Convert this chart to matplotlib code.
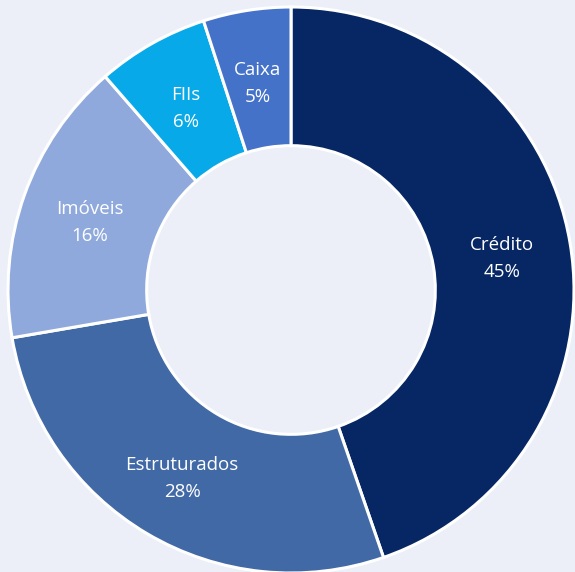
import matplotlib.pyplot as plt
import numpy as np

labels = ['Crédito', 'Estruturados', 'Imóveis', 'FIIs', 'Caixa']
values = [44.7, 27.6, 16.3, 6.4, 5.0]
colors = ['#062764', '#4169A5', '#8FA9DC', '#07A9E8', '#4472C8']
bg = '#ECEFF7'

fig = plt.figure(figsize=(5.75, 5.72), dpi=100, facecolor=bg)
ax = fig.add_axes([0, 0, 1, 1])
ax.set_facecolor(bg)

inner = 0.51
wedges, _ = ax.pie(values, colors=colors, startangle=90, counterclock=False,
                   radius=1, wedgeprops=dict(width=1 - inner, edgecolor='white', linewidth=2.2))

mid_r = (1 + inner) / 2
for w, lab, v in zip(wedges, labels, values):
    ang = np.deg2rad((w.theta1 + w.theta2) / 2)
    x, y = mid_r * np.cos(ang), mid_r * np.sin(ang)
    ax.text(x, y - 0.015, f'{lab}\n{round(v):.0f}%', ha='center', va='center', color='white',
            fontsize=13.5, family='Open Sans', linespacing=1.65)

ax.set_xlim(-291 / 283, (575 - 291) / 283)
ax.set_ylim(-282 / 283, 290 / 283)
ax.set_aspect('auto')
ax.axis('off')

fig.savefig('out.png', dpi=100, facecolor=bg)
